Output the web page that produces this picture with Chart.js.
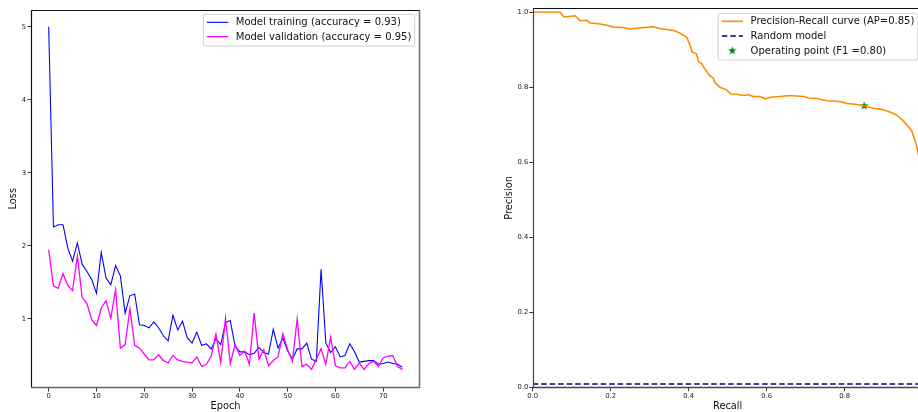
<!DOCTYPE html>
<html><head><meta charset="utf-8">
<script src="https://cdn.jsdelivr.net/npm/chart.js@4.4.1/dist/chart.umd.min.js"></script>
<style>
html,body{margin:0;padding:0;background:#fff;overflow:hidden;width:918px;height:412px;}
#wrap{position:relative;width:918px;height:412px;overflow:hidden;background:#fff;}
canvas{position:absolute;top:0;}
#c1{left:0;}
#c2{left:460px;}
</style></head><body>
<div id="wrap"><canvas id="c1" width="460" height="412"></canvas><canvas id="c2" width="480" height="412"></canvas></div>
<script>
// ---------- Data: left chart (loss per epoch) ----------
const epochs = [0,1,2,3,4,5,6,7,8,9,10,11,12,13,14,15,16,17,18,19,20,21,22,23,24,25,26,27,28,29,30,31,32,33,34,35,36,37,38,39,40,41,42,43,44,45,46,47,48,49,50,51,52,53,54,55,56,57,58,59,60,61,62,63,64,65,66,67,68,69,70,71,72,73,74];
const trainLoss = [5.00,2.26,2.29,2.29,1.97,1.79,2.04,1.75,1.65,1.54,
  1.35,1.91,1.56,1.47,1.73,1.59,1.08,1.32,1.34,0.92,
  0.91,0.88,0.96,0.88,0.77,0.70,1.05,0.85,0.97,0.74,
  0.67,0.82,0.64,0.66,0.59,0.73,0.65,0.95,0.98,0.63,
  0.55,0.55,0.51,0.53,0.61,0.54,0.52,0.86,0.60,0.74,
  0.56,0.45,0.59,0.59,0.67,0.45,0.42,1.68,0.67,0.54,
  0.62,0.48,0.50,0.66,0.55,0.41,0.42,0.43,0.43,0.38,
  0.39,0.41,0.39,0.38,0.34];
const valLoss = [1.95,1.45,1.42,1.62,1.46,1.39,1.86,1.30,1.21,0.99,
  0.91,1.15,1.25,1.01,1.40,0.60,0.65,1.14,0.64,0.60,
  0.52,0.44,0.44,0.51,0.43,0.40,0.50,0.44,0.42,0.41,
  0.40,0.48,0.35,0.38,0.49,0.79,0.40,1.01,0.39,0.65,
  0.50,0.56,0.38,1.08,0.45,0.58,0.36,0.43,0.48,0.80,
  0.58,0.42,1.00,0.35,0.38,0.31,0.45,0.59,0.38,0.75,
  0.36,0.33,0.33,0.42,0.31,0.40,0.31,0.39,0.42,0.35,
  0.47,0.49,0.50,0.35,0.31];
const epochTicks = [0,10,20,30,40,50,60,70];
const lossTicks = [1,2,3,4,5];
const trainLabel = 'Model training (accuracy = 0.93)';
const valLabel = 'Model validation (accuracy = 0.95)';

// ---------- Data: right chart (precision-recall) ----------
const prRecall = [0,0.070,0.080,0.109,0.121,0.138,0.147,0.168,0.190,0.207,
  0.232,0.250,0.275,0.309,0.326,0.361,0.378,0.395,0.403,0.409,
  0.420,0.425,0.433,0.446,0.455,0.463,0.468,0.480,0.497,0.508,
  0.523,0.540,0.553,0.566,0.583,0.596,0.613,0.634,0.660,0.694,
  0.707,0.728,0.754,0.788,0.805,0.831,0.850,0.873,0.895,0.916,
  0.933,0.950,0.972,0.985,1.0];
const prPrecision = [1.0,1.0,0.987,0.990,0.977,0.978,0.971,0.969,0.965,0.960,
  0.959,0.955,0.958,0.961,0.956,0.951,0.944,0.933,0.913,0.893,
  0.889,0.869,0.862,0.842,0.830,0.824,0.811,0.800,0.793,0.782,
  0.781,0.778,0.780,0.775,0.775,0.769,0.774,0.775,0.778,0.775,
  0.771,0.770,0.764,0.762,0.757,0.754,0.750,0.744,0.741,0.734,
  0.726,0.711,0.684,0.642,0.56];
const randomRecall = [0, 1];
const randomPrecision = [0.01, 0.01];
const opRecall = [0.85];
const opPrecision = [0.75];
const prTicks = [0,0.2,0.4,0.6,0.8,1.0];
const prLabel = 'Precision-Recall curve (AP=0.85)';
const randomLabel = 'Random model';
const opLabel = 'Operating point (F1 =0.80)';

// ---------- helpers ----------
const FONT = "'DejaVu Sans', sans-serif";
Chart.defaults.font.family = FONT;
Chart.defaults.color = '#222';

function pts(xs, ys){ return xs.map((x,i)=>({x:x, y:ys[i]})); }

function makeStar(r, color){
  const s = Math.ceil(r*2+2);
  const c = document.createElement('canvas');
  c.width = s; c.height = s;
  const g = c.getContext('2d');
  g.fillStyle = color;
  g.beginPath();
  for (let i=0;i<10;i++){
    const rad = i%2===0 ? r : r*0.4;
    const a = -Math.PI/2 + i*Math.PI/5;
    const px = s/2 + rad*Math.cos(a), py = s/2 + rad*Math.sin(a);
    if (i===0) g.moveTo(px,py); else g.lineTo(px,py);
  }
  g.closePath(); g.fill();
  return c;
}
const starImg = makeStar(4.6, '#008000');

const framePlugin = {
  id: 'frame',
  afterDatasetsDraw(chart, args, o){
    const {ctx, chartArea:a} = chart;
    const L = Math.round(a.left)+0.5, R = Math.round(a.right)-0.5, T = Math.round(a.top)+0.5, B = Math.round(a.bottom)-0.5;
    ctx.save();
    const seg = (x1,y1,x2,y2,c,w)=>{ ctx.strokeStyle=c; ctx.lineWidth=w; ctx.beginPath(); ctx.moveTo(x1,y1); ctx.lineTo(x2,y2); ctx.stroke(); };
    seg(L-0.5,T,R+0.5,T,o.top,1);
    seg(L,T,L,B+0.5,o.left,1.2);
    seg(L-0.5,B,R+0.5,B,o.bottom,1.6);
    seg(R,T,R,B+0.5,o.right,1.6);
    ctx.restore();
  }
};

const boxLegend = {
  id: 'boxLegend',
  afterDraw(chart, args, o){
    const {ctx, chartArea:a} = chart;
    const dsets = chart.data.datasets;
    const items = o.order.map(i=>dsets[i]);
    ctx.save();
    ctx.font = o.fontSize + 'px ' + FONT;
    let maxW = 0;
    items.forEach(d=>{ maxW = Math.max(maxW, ctx.measureText(d.label).width); });
    const w = o.padL + o.handleW + o.gap + maxW + o.padR;
    const h = o.padTop + (items.length-1)*o.rowH + o.padBottom;
    const x0 = a.right - o.insetR - w, y0 = a.top + o.insetT;
    const r = 2;
    ctx.beginPath();
    ctx.moveTo(x0+r,y0); ctx.lineTo(x0+w-r,y0); ctx.quadraticCurveTo(x0+w,y0,x0+w,y0+r);
    ctx.lineTo(x0+w,y0+h-r); ctx.quadraticCurveTo(x0+w,y0+h,x0+w-r,y0+h);
    ctx.lineTo(x0+r,y0+h); ctx.quadraticCurveTo(x0,y0+h,x0,y0+h-r);
    ctx.lineTo(x0,y0+r); ctx.quadraticCurveTo(x0,y0,x0+r,y0); ctx.closePath();
    ctx.fillStyle = 'rgba(255,255,255,0.8)'; ctx.fill();
    ctx.strokeStyle = '#d0d0d0'; ctx.lineWidth = 1; ctx.stroke();
    items.forEach((d,k)=>{
      const cy = y0 + o.padTop + k*o.rowH;
      const hx = x0 + o.padL;
      if (d.legendMarker){
        ctx.drawImage(starImg, hx + o.handleW/2 - starImg.width/2, cy - starImg.height/2);
      } else {
        ctx.strokeStyle = d.borderColor; ctx.lineWidth = d.borderWidth;
        ctx.setLineDash(d.borderDash || []);
        ctx.beginPath(); ctx.moveTo(hx, cy); ctx.lineTo(hx+o.handleW, cy); ctx.stroke();
        ctx.setLineDash([]);
      }
      ctx.fillStyle = '#111'; ctx.textBaseline = 'middle'; ctx.textAlign = 'left';
      ctx.fillText(d.label, hx + o.handleW + o.gap, cy + 0.5);
    });
    ctx.restore();
  }
};

const tickFont = {size: 6.8, family: FONT};
const titleFont = {size: 9.8, family: FONT};
const gridOpts = {display:true, drawOnChartArea:false, drawTicks:true, tickLength:3.5, color:'#000', tickColor:'#222', lineWidth:0.9};

// ---------- Left chart ----------
new Chart(document.getElementById('c1'), {
  type: 'line',
  data: {
    datasets: [
      {label: trainLabel, data: pts(epochs, trainLoss), borderColor:'#0000ff', borderWidth:1.1, pointRadius:0, tension:0, order:1},
      {label: valLabel, data: pts(epochs, valLoss), borderColor:'#ff00ff', borderWidth:1.3, pointRadius:0, tension:0, order:0}
    ]
  },
  options: {
    responsive:false, animation:false, devicePixelRatio:1,
    layout:{padding:{left:0, top:9.5, right:40, bottom:0}},
    plugins:{
      legend:{display:false}, tooltip:{enabled:false},
      frame:{top:'#111', left:'#111', bottom:'#666', right:'#777'},
      boxLegend:{order:[0,1], fontSize:10, padL:3.4, handleW:21.6, gap:7.4, padR:3.4, padTop:8, rowH:14.4, padBottom:9.3, insetR:5.3, insetT:4.8}
    },
    scales:{
      x:{type:'linear', min:-3.7, max:77.7,
        afterBuildTicks:s=>{ s.ticks = epochTicks.map(v=>({value:v})); },
        afterFit:s=>{ s.height = 24; },
        ticks:{font:tickFont, padding:1, maxRotation:0, callback:v=>String(v)},
        grid:gridOpts, border:{display:false},
        title:{display:true, text:'Epoch', font:titleFont, color:'#111', padding:{top:0,bottom:0}}
      },
      y:{type:'linear', min:0.055, max:5.236,
        afterBuildTicks:s=>{ s.ticks = lossTicks.map(v=>({value:v})); },
        afterFit:s=>{ s.width = 31; },
        ticks:{font:tickFont, padding:1.5, callback:v=>String(v)},
        grid:gridOpts, border:{display:false},
        title:{display:true, text:'Loss', font:titleFont, color:'#111', padding:{top:8,bottom:0}}
      }
    }
  },
  plugins:[framePlugin, boxLegend]
});

// ---------- Right chart ----------
new Chart(document.getElementById('c2'), {
  type: 'line',
  data: {
    datasets: [
      {label: prLabel, data: pts(prRecall, prPrecision), borderColor:'#ff8c00', borderWidth:1.6, pointRadius:0, tension:0, order:0},
      {label: randomLabel, data: pts(randomRecall, randomPrecision), borderColor:'#000080', borderWidth:1.4, borderDash:[5.5,3], pointRadius:0, tension:0, order:1},
      {label: opLabel, data: pts(opRecall, opPrecision), showLine:false, pointStyle:starImg, pointRadius:5, borderColor:'#008000', backgroundColor:'#008000', legendMarker:true, order:2}
    ]
  },
  options: {
    responsive:false, animation:false, devicePixelRatio:1,
    layout:{padding:{left:0, top:8.3, right:17.3, bottom:0}},
    plugins:{
      legend:{display:false}, tooltip:{enabled:false},
      frame:{top:'#111', left:'#444', bottom:'#444', right:'#444'},
      boxLegend:{order:[0,1,2], fontSize:10, padL:3.7, handleW:21, gap:7.7, padR:3.4, padTop:8, rowH:14.7, padBottom:9.3, insetR:5, insetT:5}
    },
    scales:{
      x:{type:'linear', min:0, max:1.0,
        afterBuildTicks:s=>{ s.ticks = prTicks.map(v=>({value:v})); },
        afterFit:s=>{ s.height = 24.3; },
        ticks:{font:tickFont, padding:1, maxRotation:0, callback:v=>v.toFixed(1)},
        grid:gridOpts, border:{display:false},
        title:{display:true, text:'Recall', font:titleFont, color:'#111', padding:{top:0,bottom:0}}
      },
      y:{type:'linear', min:0, max:1.01,
        afterBuildTicks:s=>{ s.ticks = prTicks.map(v=>({value:v})); },
        afterFit:s=>{ s.width = 72.7; },
        ticks:{font:tickFont, padding:1, callback:v=>v.toFixed(1)},
        grid:gridOpts, border:{display:false},
        title:{display:true, text:'Precision', font:titleFont, color:'#111', padding:{top:43.2,bottom:0}}
      }
    }
  },
  plugins:[framePlugin, boxLegend]
});
</script>
</body></html>
